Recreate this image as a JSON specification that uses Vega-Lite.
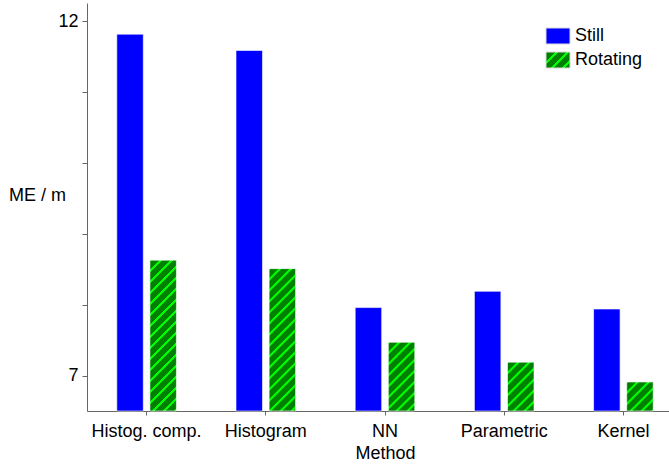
{
  "$schema": "https://vega.github.io/schema/vega-lite/v6.json",
  "width": 582,
  "height": 408,
  "autosize": "none",
  "padding": {"left": 87, "top": 3, "right": 0, "bottom": 59},
  "background": "white",
  "config": {
    "view": {"stroke": null},
    "font": "Liberation Sans",
    "axis": {
      "grid": false,
      "domainColor": "#666666",
      "tickColor": "#666666",
      "labelColor": "black",
      "titleColor": "black",
      "labelFont": "Liberation Sans",
      "titleFont": "Liberation Sans",
      "labelFontSize": 18,
      "titleFontSize": 18,
      "titleFontWeight": "normal"
    }
  },
  "params": [
    {
      "name": "hatchStops",
      "value": [
        {"offset": 0, "color": "#00ff00"}, {"offset": 0.0053, "color": "#00ff00"}, {"offset": 0.0107, "color": "#008000"},
        {"offset": 0.0481, "color": "#008000"}, {"offset": 0.0535, "color": "#00ff00"}, {"offset": 0.0641, "color": "#00ff00"}, {"offset": 0.0695, "color": "#008000"},
        {"offset": 0.1069, "color": "#008000"}, {"offset": 0.1123, "color": "#00ff00"}, {"offset": 0.1229, "color": "#00ff00"}, {"offset": 0.1283, "color": "#008000"},
        {"offset": 0.1658, "color": "#008000"}, {"offset": 0.1712, "color": "#00ff00"}, {"offset": 0.1818, "color": "#00ff00"}, {"offset": 0.1872, "color": "#008000"},
        {"offset": 0.2246, "color": "#008000"}, {"offset": 0.2300, "color": "#00ff00"}, {"offset": 0.2406, "color": "#00ff00"}, {"offset": 0.2460, "color": "#008000"},
        {"offset": 0.2834, "color": "#008000"}, {"offset": 0.2888, "color": "#00ff00"}, {"offset": 0.2994, "color": "#00ff00"}, {"offset": 0.3048, "color": "#008000"},
        {"offset": 0.3422, "color": "#008000"}, {"offset": 0.3476, "color": "#00ff00"}, {"offset": 0.3582, "color": "#00ff00"}, {"offset": 0.3636, "color": "#008000"},
        {"offset": 0.4011, "color": "#008000"}, {"offset": 0.4065, "color": "#00ff00"}, {"offset": 0.4171, "color": "#00ff00"}, {"offset": 0.4225, "color": "#008000"},
        {"offset": 0.4599, "color": "#008000"}, {"offset": 0.4653, "color": "#00ff00"}, {"offset": 0.4759, "color": "#00ff00"}, {"offset": 0.4813, "color": "#008000"},
        {"offset": 0.5187, "color": "#008000"}, {"offset": 0.5241, "color": "#00ff00"}, {"offset": 0.5347, "color": "#00ff00"}, {"offset": 0.5401, "color": "#008000"},
        {"offset": 0.5775, "color": "#008000"}, {"offset": 0.5829, "color": "#00ff00"}, {"offset": 0.5935, "color": "#00ff00"}, {"offset": 0.5989, "color": "#008000"},
        {"offset": 0.6364, "color": "#008000"}, {"offset": 0.6418, "color": "#00ff00"}, {"offset": 0.6524, "color": "#00ff00"}, {"offset": 0.6578, "color": "#008000"},
        {"offset": 0.6952, "color": "#008000"}, {"offset": 0.7006, "color": "#00ff00"}, {"offset": 0.7112, "color": "#00ff00"}, {"offset": 0.7166, "color": "#008000"},
        {"offset": 0.7540, "color": "#008000"}, {"offset": 0.7594, "color": "#00ff00"}, {"offset": 0.7700, "color": "#00ff00"}, {"offset": 0.7754, "color": "#008000"},
        {"offset": 0.8128, "color": "#008000"}, {"offset": 0.8182, "color": "#00ff00"}, {"offset": 0.8288, "color": "#00ff00"}, {"offset": 0.8342, "color": "#008000"},
        {"offset": 0.8717, "color": "#008000"}, {"offset": 0.8771, "color": "#00ff00"}, {"offset": 0.8877, "color": "#00ff00"}, {"offset": 0.8931, "color": "#008000"},
        {"offset": 0.9305, "color": "#008000"}, {"offset": 0.9359, "color": "#00ff00"}, {"offset": 0.9465, "color": "#00ff00"}, {"offset": 0.9519, "color": "#008000"},
        {"offset": 1, "color": "#008000"}
      ]
    }
  ],
  "data": {
    "values": [
      {"method": "Histog. comp.", "series": "Still", "ME": 11.82},
      {"method": "Histog. comp.", "series": "Rotating", "ME": 8.63},
      {"method": "Histogram", "series": "Still", "ME": 11.59},
      {"method": "Histogram", "series": "Rotating", "ME": 8.51},
      {"method": "NN", "series": "Still", "ME": 7.96},
      {"method": "NN", "series": "Rotating", "ME": 7.47},
      {"method": "Parametric", "series": "Still", "ME": 8.19},
      {"method": "Parametric", "series": "Rotating", "ME": 7.19},
      {"method": "Kernel", "series": "Still", "ME": 7.94},
      {"method": "Kernel", "series": "Rotating", "ME": 6.91}
    ]
  },
  "encoding": {
    "x": {
      "field": "method",
      "type": "nominal",
      "sort": ["Histog. comp.", "Histogram", "NN", "Parametric", "Kernel"],
      "scale": {"range": [0, 596], "paddingInner": 0.5, "paddingOuter": 0.25},
      "axis": {
        "title": "Method",
        "labelAngle": 0,
        "tickSize": 4,
        "labelPadding": 7,
        "titlePadding": 4
      }
    },
    "xOffset": {
      "field": "series",
      "type": "nominal",
      "sort": ["Still", "Rotating"],
      "scale": {"domain": ["Still", "Rotating"], "paddingInner": 0.2, "paddingOuter": 0}
    },
    "y": {
      "field": "ME",
      "type": "quantitative",
      "scale": {"domain": [6.5, 12.26], "zero": false, "nice": false},
      "axis": {
        "title": "ME / m",
        "values": [7, 8, 9, 10, 11, 12],
        "labelExpr": "datum.value == 7 || datum.value == 12 ? datum.label : ''",
        "tickSize": 5,
        "labelPadding": 4,
        "titleAngle": 0,
        "titleX": -50,
        "titleY": 192,
        "titleAlign": "center",
        "titleBaseline": "middle"
      }
    },
    "y2": {"datum": 6.5}
  },
  "layer": [
    {
      "transform": [{"filter": "datum.series === 'Still'"}],
      "mark": {"type": "bar", "stroke": "white", "strokeOpacity": 0.6, "strokeWidth": 1},
      "encoding": {
        "fill": {
          "field": "series",
          "type": "nominal",
          "scale": {
            "domain": ["Still", "Rotating"],
            "range": [
              "#0000ff",
              {"expr": "{gradient: 'linear', x1: 0, y1: 0, x2: 5.394, y2: 3.596, stops: hatchStops}"}
            ]
          },
          "legend": {
            "title": null,
            "orient": "none",
            "legendX": 462,
            "legendY": 24,
            "padding": 0,
            "rowPadding": 4,
            "symbolType": "M-1.5,-1H1.5V1H-1.5Z",
            "symbolSize": 256,
            "symbolStrokeColor": "#d8d8d8",
            "symbolStrokeWidth": 1,
            "labelOffset": 8,
            "labelFont": "Liberation Sans",
            "labelFontSize": 18,
            "labelColor": "black"
          }
        }
      }
    },
    {
      "transform": [{"filter": "datum.series === 'Rotating'"}],
      "mark": {
        "type": "bar",
        "stroke": "white",
        "strokeOpacity": 0.6,
        "strokeWidth": 1,
        "fill": {"expr": "{gradient: 'linear', x1: 0, y1: 0, x2: bandwidth('xOffset') * 187 / (pow(bandwidth('xOffset'), 2) + pow(height - scale('y', datum.ME), 2)), y2: (height - scale('y', datum.ME)) * 187 / (pow(bandwidth('xOffset'), 2) + pow(height - scale('y', datum.ME), 2)), stops: hatchStops}"}
      }
    }
  ]
}
